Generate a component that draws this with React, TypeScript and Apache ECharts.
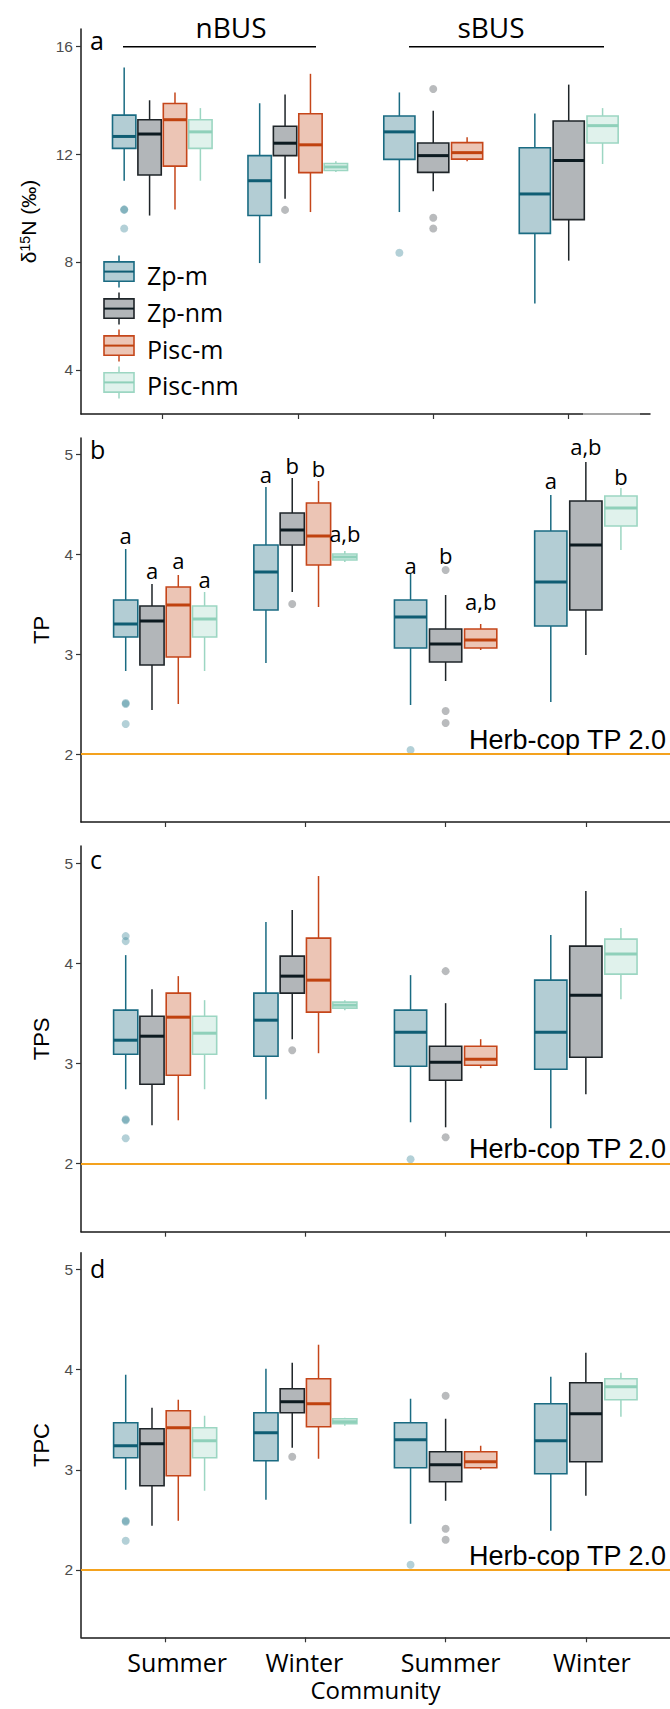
import React, { useEffect, useRef } from "react";
import * as echarts from "echarts";

// ---------- DATA ----------
const categories = ["Summer", "Winter", "Summer", "Winter"];
const groupNames = ["Zp-m", "Zp-nm", "Pisc-m", "Pisc-nm"];
const regionNames = ["nBUS", "sBUS"];
const panelLetters = ["a", "b", "c", "d"];
const yTitles = ["{d|δ}{s|15}{d|N (‰)}", "TP", "TPS", "TPC"];
const ticksN15 = [4, 8, 12, 16];
const ticksTP = [2, 3, 4, 5];
const herbLevel = 2;
const herbLabel = "Herb-cop TP 2.0";

type Stat = number[] | null; // [lower whisker, Q1, median, Q3, upper whisker]

// Panel a: d15N
const n15ZpM: Stat[] = [[11.01, 12.21, 12.65, 13.44, 15.2], [7.96, 9.72, 11.01, 11.94, 13.88], [9.85, 11.8, 12.82, 13.41, 14.28], [6.46, 9.06, 10.52, 12.23, 13.5]];
const n15ZpNm: Stat[] = [[9.72, 11.22, 12.74, 13.27, 13.99], [10.34, 11.94, 12.4, 13.03, 14.2], [10.62, 11.32, 11.94, 12.41, 13.6], [8.05, 9.57, 11.76, 13.22, 14.57]];
const n15PiscM: Stat[] = [[9.94, 11.55, 13.27, 13.87, 14.28], [9.85, 11.31, 12.34, 13.49, 14.97], [11.73, 11.81, 12.05, 12.42, 12.62], null];
const n15PiscNm: Stat[] = [[11.01, 12.21, 12.82, 13.27, 13.7], [11.33, 11.39, 11.52, 11.65, 11.73], null, [11.63, 12.41, 13.05, 13.41, 13.7]];
const n15ZpMOut = [[0, 9.93], [0, 9.95], [0, 9.24], [2, 8.34]];
const n15ZpNmOut = [[1, 9.93], [2, 14.41], [2, 9.64], [2, 9.24]];

// Panel b: TP
const tpZpM: Stat[] = [[2.83, 3.17, 3.3, 3.54, 4.05], [2.91, 3.44, 3.82, 4.09, 4.67], [2.49, 3.06, 3.37, 3.54, 3.8], [2.52, 3.28, 3.72, 4.23, 4.59]];
const tpZpNm: Stat[] = [[2.44, 2.89, 3.33, 3.48, 3.7], [3.62, 4.09, 4.24, 4.41, 4.76], [2.73, 2.92, 3.1, 3.25, 3.59], [2.99, 3.44, 4.09, 4.53, 4.92]];
const tpPiscM: Stat[] = [[2.5, 2.97, 3.49, 3.67, 3.79], [3.47, 3.89, 4.18, 4.51, 4.73], [3.04, 3.06, 3.14, 3.25, 3.3], null];
const tpPiscNm: Stat[] = [[2.83, 3.17, 3.35, 3.48, 3.62], [3.92, 3.94, 3.97, 4.0, 4.03], null, [4.04, 4.28, 4.46, 4.58, 4.66]];
const tpZpMOut = [[0, 2.5], [0, 2.51], [0, 2.3], [2, 2.04]];
const tpZpNmOut = [[1, 3.5], [2, 3.84], [2, 2.43], [2, 2.31]];
const tpLetters = [["a", "a", "a", "a"], ["a", "b", "b", "a,b"], ["a", "b", "a,b", null], ["a", "a,b", null, "b"]];
const tpLetterY = [[4.19, 4.8, 3.89, 4.74], [3.84, 4.89, 3.99, 5.08], [3.94, 4.86, 3.53, null], [3.75, 4.21, null, 4.78]];

// Panel c: TPS
const tpsZpM: Stat[] = [[2.74, 3.09, 3.23, 3.53, 4.08], [2.64, 3.07, 3.43, 3.7, 4.41], [2.41, 2.97, 3.31, 3.53, 3.88], [2.35, 2.94, 3.31, 3.83, 4.28]];
const tpsZpNm: Stat[] = [[2.38, 2.79, 3.27, 3.47, 3.74], [3.24, 3.7, 3.87, 4.07, 4.53], [2.36, 2.83, 3.01, 3.17, 3.6], [2.69, 3.06, 3.68, 4.17, 4.72]];
const tpsPiscM: Stat[] = [[2.43, 2.88, 3.46, 3.7, 3.87], [3.1, 3.51, 3.83, 4.25, 4.87], [2.95, 2.98, 3.04, 3.17, 3.24], null];
const tpsPiscNm: Stat[] = [[2.74, 3.09, 3.3, 3.47, 3.63], [3.53, 3.55, 3.58, 3.61, 3.63], null, [3.64, 3.89, 4.09, 4.24, 4.35]];
const tpsZpMOut = [[0, 4.27], [0, 4.22], [0, 2.43], [0, 2.44], [0, 2.25], [2, 2.04]];
const tpsZpNmOut = [[1, 3.13], [2, 3.92], [2, 2.26]];

// Panel d: TPC
const tpcZpM: Stat[] = [[2.8, 3.12, 3.24, 3.47, 3.95], [2.7, 3.09, 3.37, 3.57, 4.01], [2.46, 3.02, 3.3, 3.47, 3.71], [2.39, 2.96, 3.29, 3.66, 3.93]];
const tpcZpNm: Stat[] = [[2.44, 2.84, 3.26, 3.41, 3.62], [3.22, 3.57, 3.68, 3.81, 4.07], [2.69, 2.88, 3.05, 3.18, 3.51], [2.74, 3.08, 3.56, 3.87, 4.17]];
const tpcPiscM: Stat[] = [[2.49, 2.94, 3.42, 3.59, 3.7], [3.11, 3.43, 3.66, 3.91, 4.25], [3.0, 3.02, 3.08, 3.18, 3.24], null];
const tpcPiscNm: Stat[] = [[2.79, 3.12, 3.29, 3.42, 3.54], [3.44, 3.46, 3.48, 3.51, 3.52], null, [3.53, 3.7, 3.83, 3.91, 3.97]];
const tpcZpMOut = [[0, 2.48], [0, 2.49], [0, 2.29], [2, 2.05]];
const tpcZpNmOut = [[1, 3.13], [2, 3.74], [2, 2.41], [2, 2.3]];

// ---------- STYLE / LAYOUT ----------
const strokeColors = ["#1a6b82", "#1e2428", "#c5461a", "#9cd6c2"];
const fillColors = ["#b3cdd4", "#b2b6b9", "#ecc5b5", "#e0f2ec"];
const medianColors = ["#0f5d73", "#0c1a20", "#c0420f", "#8fd0ba"];
const outlierColors = ["rgba(53,130,149,0.47)", "rgba(80,85,90,0.5)"];
const FONT_OS = '"Open Sans", Lato, sans-serif';
const FONT_AR = '"Liberation Sans", Arial, sans-serif';
const labelShift = [12, -1, 5, 6];

const panels = [
  { stats: [n15ZpM, n15ZpNm, n15PiscM, n15PiscNm], outs: [n15ZpMOut, n15ZpNmOut], ticks: ticksN15, grid: { left: 81, top: 29, width: 569, height: 385 }, yMin: 2.37, yMax: 16.63, nameGap: 42, herb: false },
  { stats: [tpZpM, tpZpNm, tpPiscM, tpPiscNm], outs: [tpZpMOut, tpZpNmOut], ticks: ticksTP, grid: { left: 81, top: 438, width: 592.4, height: 384 }, yMin: 1.32, yMax: 5.16, nameGap: 29, herb: true },
  { stats: [tpsZpM, tpsZpNm, tpsPiscM, tpsPiscNm], outs: [tpsZpMOut, tpsZpNmOut], ticks: ticksTP, grid: { left: 81, top: 846, width: 592.4, height: 385.7 }, yMin: 1.317, yMax: 5.17, nameGap: 29, herb: true },
  { stats: [tpcZpM, tpcZpNm, tpcPiscM, tpcPiscNm], outs: [tpcZpMOut, tpcZpNmOut], ticks: ticksTP, grid: { left: 81, top: 1252.7, width: 592.4, height: 384.6 }, yMin: 1.325, yMax: 5.17, nameGap: 29, herb: true },
];
const letterPos = [40, 448.5, 859, 1267.5];

function dodge(stats: Stat[][], cat: number, g: number) {
  const present = stats.map((s) => s[cat] != null);
  const n = present.filter(Boolean).length;
  const idx = present.slice(0, g).filter(Boolean).length;
  const slot = 0.75 / n;
  return { offset: -0.375 + (idx + 0.5) * slot, width: slot * 0.92 };
}

function makeBox(g: number) {
  return (params: any, api: any) => {
    const x = api.value(0);
    const w = api.value(6);
    const pLo = api.coord([x, api.value(1)]);
    const pQ1 = api.coord([x, api.value(2)]);
    const pMed = api.coord([x, api.value(3)]);
    const pQ3 = api.coord([x, api.value(4)]);
    const pHi = api.coord([x, api.value(5)]);
    const half = api.size([w, 0])[0] / 2;
    const stroke = strokeColors[g];
    return {
      type: "group",
      children: [
        { type: "line", shape: { x1: pHi[0], y1: pHi[1], x2: pQ3[0], y2: pQ3[1] }, style: { stroke, lineWidth: 1.5 } },
        { type: "line", shape: { x1: pLo[0], y1: pLo[1], x2: pQ1[0], y2: pQ1[1] }, style: { stroke, lineWidth: 1.5 } },
        { type: "rect", shape: { x: pQ3[0] - half, y: pQ3[1], width: half * 2, height: Math.max(pQ1[1] - pQ3[1], 1) }, style: { fill: fillColors[g], stroke, lineWidth: 1.6 } },
        { type: "line", shape: { x1: pMed[0] - half, y1: pMed[1], x2: pMed[0] + half, y2: pMed[1] }, style: { stroke: medianColors[g], lineWidth: 3 } },
      ],
    };
  };
}

function yPix(p: any, v: number) {
  return p.grid.top + ((p.yMax - v) / (p.yMax - p.yMin)) * p.grid.height;
}

function buildOption() {
  const grid: any[] = [];
  const xAxis: any[] = [];
  const yAxis: any[] = [];
  const series: any[] = [];
  const graphic: any[] = [];

  const labelRich: any = {};
  labelShift.forEach((s, k) => {
    labelRich["l" + k] = {
      fontFamily: FONT_OS,
      fontSize: 25,
      color: "#000",
      padding: s >= 0 ? [0, 0, 0, 2 * s] : [0, -2 * s, 0, 0],
    };
  });

  panels.forEach((p, i) => {
    grid.push({ ...p.grid, containLabel: false });
    const isLast = i === panels.length - 1;
    xAxis.push({
      gridIndex: i,
      type: "value",
      min: 0.4,
      max: 4.6,
      axisLine: { show: true, lineStyle: { color: "#1a1a1a", width: 1.5 } },
      axisTick: { show: true, customValues: [1, 2, 3, 4], length: 5, lineStyle: { color: "#333", width: 1.2 } },
      axisLabel: {
        show: isLast,
        customValues: [1, 2, 3, 4],
        formatter: (v: number) => {
          const k = Math.round(v) - 1;
          return categories[k] ? `{l${k}|${categories[k]}}` : "";
        },
        rich: labelRich,
        margin: 12,
        fontFamily: FONT_OS,
        fontSize: 25,
        color: "#000",
      },
      splitLine: { show: false },
      name: isLast ? "Community" : "",
      nameLocation: "middle",
      nameGap: 40,
      nameTextStyle: { fontFamily: FONT_OS, fontSize: 24, color: "#000" },
    });
    yAxis.push({
      gridIndex: i,
      type: "value",
      min: p.yMin,
      max: p.yMax,
      axisLine: { show: true, lineStyle: { color: "#1a1a1a", width: 1.5 } },
      axisTick: { show: true, customValues: p.ticks, length: 5, lineStyle: { color: "#333", width: 1.2 } },
      axisLabel: { customValues: p.ticks, margin: 8, fontFamily: FONT_AR, fontSize: 15.5, color: "#4d4d4d" },
      splitLine: { show: false },
      name: yTitles[i],
      nameLocation: "middle",
      nameRotate: 90,
      nameGap: p.nameGap,
      nameTextStyle: {
        fontFamily: FONT_AR,
        fontSize: 22,
        color: "#000",
        rich: {
          d: { fontFamily: FONT_AR, fontSize: 21, color: "#000" },
          s: { fontFamily: FONT_AR, fontSize: 14, color: "#000", verticalAlign: "top" },
        },
      },
    });

    if (p.herb) {
      series.push({
        type: "line",
        xAxisIndex: i,
        yAxisIndex: i,
        data: [],
        z: 1,
        silent: true,
        markLine: {
          silent: true,
          symbol: ["none", "none"],
          label: { show: false },
          lineStyle: { color: "#f4a21e", width: 2, type: "solid" },
          data: [{ yAxis: herbLevel }],
        },
      });
      graphic.push({
        type: "text",
        x: 666,
        y: yPix(p, herbLevel) - 14,
        style: { text: herbLabel, font: `27px ${FONT_AR}`, fill: "#000", align: "right", verticalAlign: "middle", textAlign: "right", textVerticalAlign: "middle" },
        z: 10,
      });
    }

    p.stats.forEach((gs, g) => {
      const rows: number[][] = [];
      gs.forEach((s, cat) => {
        if (!s) return;
        const d = dodge(p.stats, cat, g);
        rows.push([cat + 1 + d.offset, s[0], s[1], s[2], s[3], s[4], d.width]);
      });
      series.push({
        type: "custom",
        name: groupNames[g],
        xAxisIndex: i,
        yAxisIndex: i,
        data: rows,
        encode: { x: 0, y: [1, 2, 3, 4, 5] },
        renderItem: makeBox(g),
        clip: false,
        silent: true,
        z: 2,
      });
    });

    p.outs.forEach((os, g) => {
      series.push({
        type: "scatter",
        xAxisIndex: i,
        yAxisIndex: i,
        data: os.map(([cat, v]) => [cat + 1 + dodge(p.stats, cat, g).offset, v]),
        symbolSize: 8,
        itemStyle: { color: outlierColors[g] },
        silent: true,
        z: 3,
      });
    });

    if (i === 1) {
      tpLetters.forEach((ls, g) => {
        const rows: number[][] = [];
        const texts: string[] = [];
        ls.forEach((l, cat) => {
          const yv = tpLetterY[g][cat];
          if (!l || yv == null) return;
          rows.push([cat + 1 + dodge(p.stats, cat, g).offset, yv]);
          texts.push(l);
        });
        series.push({
          type: "custom",
          xAxisIndex: i,
          yAxisIndex: i,
          data: rows,
          encode: { x: 0, y: 1 },
          clip: false,
          silent: true,
          z: 4,
          renderItem: (params: any, api: any) => {
            const pt = api.coord([api.value(0), api.value(1)]);
            return {
              type: "text",
              x: pt[0],
              y: pt[1],
              style: { text: texts[params.dataIndex], font: `22px ${FONT_OS}`, fill: "#000", align: "center", verticalAlign: "middle", textAlign: "center", textVerticalAlign: "middle" },
            };
          },
        });
      });
    }

    graphic.push({
      type: "text",
      x: 90,
      y: letterPos[i],
      style: { text: panelLetters[i], font: `25px ${FONT_OS}`, fill: "#000", align: "left", verticalAlign: "middle", textAlign: "left", textVerticalAlign: "middle" },
      z: 10,
    });
  });

  // region headers (panel a)
  const regionX = [231, 491];
  const regionLine = [[123, 316], [409, 604]];
  regionNames.forEach((r, k) => {
    graphic.push({
      type: "text",
      x: regionX[k],
      y: 27,
      style: { text: r, font: `28px ${FONT_OS}`, fill: "#000", align: "center", verticalAlign: "middle", textAlign: "center", textVerticalAlign: "middle" },
      z: 10,
    });
    graphic.push({
      type: "line",
      shape: { x1: regionLine[k][0], y1: 46.7, x2: regionLine[k][1], y2: 46.7 },
      style: { stroke: "#000", lineWidth: 1.6 },
      z: 10,
    });
  });

  // legend (panel a)
  const legendY = [271.6, 308.6, 345.6, 382.4];
  groupNames.forEach((name, g) => {
    const cy = legendY[g];
    graphic.push({
      type: "group",
      z: 10,
      children: [
        { type: "line", shape: { x1: 119, y1: cy - 16, x2: 119, y2: cy + 16 }, style: { stroke: strokeColors[g], lineWidth: 1.5 } },
        { type: "rect", shape: { x: 104, y: cy - 9.7, width: 30, height: 19.4 }, style: { fill: fillColors[g], stroke: strokeColors[g], lineWidth: 1.6 } },
        { type: "line", shape: { x1: 104, y1: cy, x2: 134, y2: cy }, style: { stroke: medianColors[g], lineWidth: 2 } },
        { type: "text", x: 147, y: cy + 3, style: { text: name, font: `25px ${FONT_OS}`, fill: "#000", align: "left", verticalAlign: "middle", textAlign: "left", textVerticalAlign: "middle" } },
      ],
    });
  });

  // light segment on panel a axis
  graphic.push({ type: "line", shape: { x1: 583, y1: 414, x2: 640, y2: 414 }, style: { stroke: "#c4c4c4", lineWidth: 1.5 }, z: 10 });

  return { animation: false, backgroundColor: "#fff", grid, xAxis, yAxis, series, graphic };
}

export default function App() {
  const ref = useRef<HTMLDivElement>(null);
  useEffect(() => {
    document.body.style.margin = "0";
    const chart = echarts.init(ref.current!, null, { renderer: "svg" });
    chart.setOption(buildOption() as any);
    return () => chart.dispose();
  }, []);
  return <div ref={ref} style={{ width: 670, height: 1709 }} />;
}
